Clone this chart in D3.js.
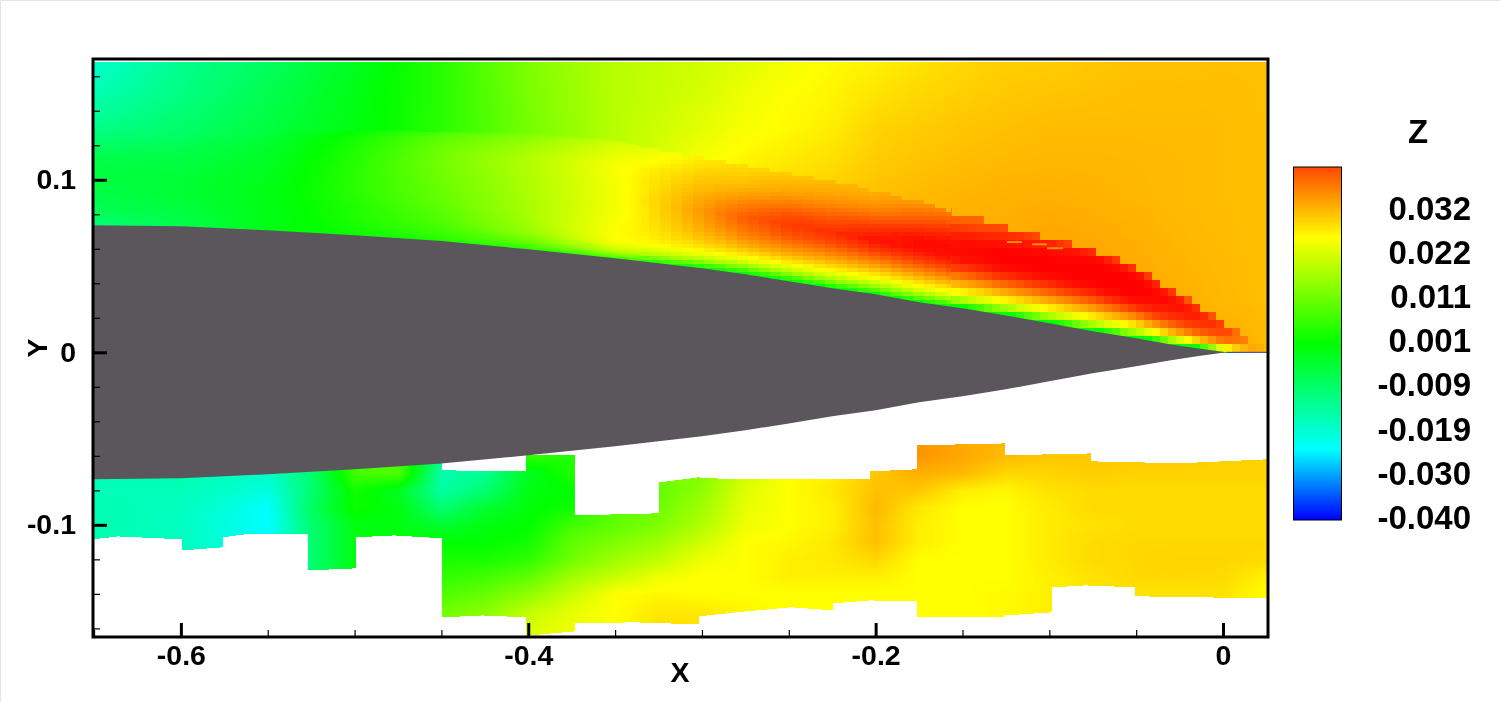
<!DOCTYPE html>
<html>
<head>
  <script src="https://d3js.org/d3.v7.min.js"></script>
  <style>
    html, body { margin: 0; padding: 0; background: #fff; }
    canvas, svg { position: absolute; left: 0; top: 0; }
    text { font-family: "Liberation Sans", Arial, sans-serif; font-weight: bold; fill: #000; }
  </style>
</head>
<body>
  <canvas id="field" width="1500" height="702"></canvas>
  <script>
    const colX = [-0.65,-0.6,-0.55,-0.5,-0.45,-0.4,-0.35,-0.3,-0.275,-0.25,-0.225,-0.2,-0.175,-0.15,-0.125,-0.1,-0.075,-0.05,-0.03,-0.015,0,0.025];
    const wallY = [0.0736,0.073,0.0707,0.0678,0.0645,0.0597,0.0545,0.0487,0.0452,0.0412,0.0371,0.0336,0.029,0.0255,0.0214,0.0168,0.0122,0.0081,0.0046,0.0023,0,0];
    const edgeY = [0.1287,0.1287,0.1287,0.1287,0.1281,0.127,0.1229,0.1125,0.1084,0.1043,0.0991,0.0939,0.0875,0.08,0.0719,0.0667,0.0597,0.0487,0.0365,0.0272,0.018,0.0006];

    // Outer field, one row per y
    const outerRows = [0.17,0.15,0.13,0.11,0.09,0.07,0.05,0.03,0.01];
    const outerZ = [
      [-0.02,-0.0135,-0.009,-0.003,0.004,0.0125,0.018,0.0204,0.022,0.024,0.0252,0.0258,0.0268,0.0276,0.0281,0.0283,0.0287,0.029,0.029,0.0291,0.0292,0.0292],
      [-0.017,-0.0125,-0.0075,-0.002,0.004,0.012,0.018,0.021,0.0235,0.025,0.0257,0.0268,0.0276,0.0282,0.0287,0.0289,0.0291,0.0293,0.0293,0.0293,0.0293,0.0292],
      [-0.013,-0.01,-0.006,-0.0015,0.004,0.0115,0.018,0.0225,0.0245,0.0253,0.0262,0.0279,0.0284,0.0289,0.0292,0.0295,0.0295,0.0295,0.0295,0.0295,0.0294,0.0292],
      [-0.012,-0.009,-0.004,0,0.005,0.012,0.018,0.0245,0.0258,0.0265,0.0272,0.0285,0.029,0.0294,0.0297,0.0298,0.0298,0.0297,0.0296,0.0295,0.0294,0.0292],
      [-0.01,-0.007,-0.002,0.001,0.006,0.013,0.019,0.026,0.0275,0.028,0.0285,0.0292,0.0297,0.03,0.0302,0.0303,0.0301,0.0298,0.0296,0.0295,0.0294,0.0292],
      [-0.01,-0.007,-0.002,0.001,0.006,0.013,0.019,0.026,0.0275,0.028,0.0285,0.0292,0.0297,0.0302,0.0305,0.0308,0.0306,0.0302,0.0298,0.0296,0.0295,0.0292],
      [-0.01,-0.007,-0.002,0.001,0.006,0.013,0.019,0.026,0.0275,0.028,0.0285,0.0292,0.0297,0.0302,0.0305,0.0308,0.031,0.0306,0.0301,0.0298,0.0296,0.0292],
      [-0.01,-0.007,-0.002,0.001,0.006,0.013,0.019,0.026,0.0275,0.028,0.0285,0.0292,0.0297,0.0302,0.0305,0.0308,0.031,0.0308,0.0305,0.03,0.0297,0.0293],
      [-0.01,-0.007,-0.002,0.001,0.006,0.013,0.019,0.026,0.0275,0.028,0.0285,0.0292,0.0297,0.0302,0.0305,0.0308,0.031,0.0308,0.0305,0.0303,0.0305,0.0295]
    ];

    // Near-wall field: share of the way from the wall to the outer edge, one list per column
    const innerEta = [0,0.03,0.07,0.12,0.17,0.25,0.33,0.42,0.52,0.62,0.72,0.82,0.92,1];
    const innerZ = [
      [-0.011,-0.011,-0.01,-0.009,-0.008,-0.0075,-0.007,-0.0065,-0.006,-0.0065,-0.0075,-0.009,-0.011,-0.012],
      [-0.007,-0.007,-0.007,-0.0065,-0.006,-0.0055,-0.005,-0.005,-0.005,-0.006,-0.0065,-0.0075,-0.009,-0.01],
      [-0.002,-0.002,-0.002,-0.002,-0.002,-0.002,-0.002,-0.002,-0.0025,-0.003,-0.0035,-0.004,-0.005,-0.006],
      [0.001,0.0015,0.002,0.0025,0.003,0.003,0.0035,0.004,0.004,0.004,0.0035,0.003,0.002,0],
      [0.002,0.004,0.0055,0.0065,0.0075,0.0085,0.0095,0.01,0.0105,0.011,0.0115,0.011,0.0095,0.007],
      [0.003,0.007,0.01,0.013,0.015,0.016,0.0165,0.0165,0.017,0.017,0.0175,0.017,0.015,0.0125],
      [0.004,0.012,0.019,0.0235,0.025,0.025,0.0245,0.024,0.024,0.024,0.0245,0.024,0.022,0.0205],
      [0.001,0.006,0.016,0.0225,0.026,0.0285,0.03,0.0313,0.0318,0.031,0.0295,0.0285,0.0272,0.0262],
      [0.0005,0.005,0.014,0.0215,0.026,0.03,0.0325,0.0345,0.036,0.034,0.0315,0.0295,0.0282,0.0272],
      [0,0.005,0.014,0.0215,0.026,0.0305,0.0335,0.0365,0.038,0.0365,0.0335,0.031,0.0295,0.0282],
      [0,0.005,0.014,0.021,0.0255,0.03,0.0335,0.037,0.039,0.037,0.0345,0.032,0.0305,0.0295],
      [0,0.006,0.014,0.021,0.0255,0.03,0.034,0.038,0.041,0.039,0.036,0.033,0.031,0.0303],
      [0,0.006,0.014,0.021,0.0255,0.03,0.034,0.038,0.041,0.0415,0.039,0.036,0.0335,0.0315],
      [0,0.006,0.014,0.021,0.0255,0.03,0.034,0.038,0.041,0.0415,0.041,0.039,0.036,0.034],
      [0,0.006,0.014,0.021,0.0255,0.03,0.034,0.038,0.041,0.042,0.042,0.041,0.039,0.037],
      [0,0.006,0.014,0.021,0.0255,0.03,0.034,0.038,0.041,0.042,0.042,0.0415,0.04,0.036],
      [0,0.006,0.014,0.021,0.0255,0.03,0.034,0.038,0.041,0.042,0.042,0.042,0.041,0.038],
      [0,0.006,0.014,0.021,0.0255,0.03,0.034,0.038,0.041,0.042,0.042,0.042,0.041,0.038],
      [0,0.006,0.014,0.022,0.027,0.031,0.034,0.037,0.039,0.04,0.0415,0.041,0.04,0.037],
      [0,0.006,0.014,0.022,0.027,0.031,0.034,0.036,0.038,0.039,0.04,0.04,0.039,0.036],
      [0,0.006,0.014,0.022,0.027,0.03,0.033,0.035,0.036,0.037,0.038,0.038,0.037,0.035],
      [0.029,0.029,0.029,0.029,0.029,0.029,0.029,0.029,0.029,0.029,0.029,0.029,0.029,0.029]
    ];

    // Lower patch of data
    const lowerX = [-0.65,-0.6,-0.575,-0.55,-0.525,-0.5,-0.475,-0.45,-0.425,-0.4,-0.375,-0.35,-0.325,-0.3,-0.275,-0.25,-0.225,-0.2,-0.175,-0.15,-0.125,-0.1,-0.075,-0.05,-0.025,0,0.025];
    const lowerRows = [-0.06,-0.07,-0.08,-0.09,-0.10,-0.11,-0.12,-0.13,-0.14,-0.15,-0.16];
    const lowerZ = [
      [-0.017,-0.017,-0.018,-0.019,-0.006,0.006,0.0078,-0.012,-0.016,0.0047,0.003,0.01,0.0125,0.0125,0.02,0.025,0.0265,0.0297,0.032,0.0308,0.0295,0.0287,0.0287,0.0287,0.0287,0.0281,0.0281],
      [-0.017,-0.017,-0.0185,-0.019,-0.0108,0.0063,0.0078,-0.0169,-0.0138,-0.0031,0.0031,0.0094,0.0125,0.0125,0.0204,0.025,0.026,0.0287,0.0303,0.0297,0.0276,0.0279,0.0283,0.0279,0.0279,0.0279,0.0279],
      [-0.0177,-0.0177,-0.0192,-0.0215,-0.0108,0.0016,-0.0031,-0.0154,-0.0108,-0.0015,0,0.0094,0.0094,0.0141,0.022,0.025,0.0265,0.0292,0.0287,0.026,0.0255,0.0269,0.0274,0.0274,0.0274,0.0274,0.0274],
      [-0.0169,-0.0184,-0.0208,-0.0245,-0.0092,0.001,-0.0015,-0.0108,-0.0046,-0.0008,0.0016,0.0094,0.011,0.0157,0.0227,0.025,0.026,0.0297,0.0265,0.025,0.025,0.0263,0.0274,0.0274,0.0274,0.0274,0.0274],
      [-0.0169,-0.0184,-0.0215,-0.0245,-0.0108,-0.0015,-0.0015,-0.0046,-0.0015,0,0.0063,0.0094,0.0125,0.0173,0.0235,0.025,0.026,0.0292,0.026,0.025,0.025,0.0263,0.0269,0.0274,0.0274,0.0274,0.0274],
      [-0.0169,-0.0184,-0.021,-0.024,-0.0108,-0.0015,-0.001,0,0,0.0016,0.0094,0.0125,0.0157,0.0204,0.025,0.0255,0.0265,0.0292,0.026,0.025,0.025,0.0263,0.0274,0.0276,0.0276,0.0276,0.0276],
      [-0.0169,-0.018,-0.02,-0.022,-0.0108,-0.0015,0.001,0.0024,0.0024,0.0047,0.011,0.0157,0.0188,0.0235,0.025,0.026,0.0265,0.0276,0.025,0.025,0.025,0.0263,0.0274,0.0276,0.0278,0.0278,0.0274],
      [-0.0169,-0.018,-0.02,-0.022,-0.0108,-0.002,0.002,0.0047,0.0063,0.0094,0.0157,0.0196,0.0235,0.025,0.025,0.026,0.026,0.026,0.025,0.025,0.025,0.026,0.0269,0.0276,0.0276,0.0274,0.0258],
      [-0.0169,-0.018,-0.02,-0.022,-0.0108,-0.002,0.002,0.0078,0.0102,0.0141,0.0196,0.025,0.0255,0.025,0.025,0.025,0.025,0.025,0.025,0.025,0.0253,0.026,0.0268,0.0269,0.0269,0.0269,0.025],
      [-0.0169,-0.018,-0.02,-0.022,-0.0108,-0.002,0.002,0.011,0.0133,0.0188,0.0227,0.025,0.0265,0.0265,0.0255,0.025,0.025,0.025,0.025,0.025,0.0253,0.026,0.0268,0.0269,0.0269,0.0269,0.025],
      [-0.0169,-0.018,-0.02,-0.022,-0.0108,-0.002,0.002,0.011,0.0133,0.0212,0.0235,0.025,0.027,0.027,0.0255,0.025,0.025,0.025,0.025,0.025,0.0253,0.026,0.0268,0.0269,0.0269,0.0269,0.025]
    ];

    // Outline of the lower patch, read along its stepped edges
    const lowerOutlineX = [-0.6506,-0.4496,-0.4496,-0.4013,-0.4013,-0.3731,-0.3731,-0.3247,-0.3247,-0.3022,-0.2827,-0.2032,-0.2032,-0.1762,-0.1762,-0.1255,-0.1255,-0.076,-0.076,-0.0248,0.0259,
      0.0259,-0.0507,-0.0507,-0.0789,-0.0984,-0.0984,-0.1255,-0.1255,-0.1762,-0.1762,-0.2032,-0.2245,-0.2245,-0.2487,-0.274,-0.3017,-0.3017,-0.3385,-0.3731,-0.3731,-0.399,-0.4013,-0.4013,-0.4266,-0.4496,-0.4496,-0.4773,-0.4991,-0.4991,-0.5268,-0.5268,-0.563,-0.5757,-0.5757,-0.5993,-0.5993,-0.6361,-0.6506];
    const lowerOutlineY = [-0.051,-0.051,-0.0684,-0.069,-0.0597,-0.0597,-0.0945,-0.0933,-0.0754,-0.0725,-0.0736,-0.0736,-0.069,-0.0678,-0.0539,-0.0528,-0.0597,-0.0586,-0.0632,-0.0643,-0.062,
      -0.1426,-0.1414,-0.1362,-0.1351,-0.1362,-0.1507,-0.1525,-0.1536,-0.1536,-0.1443,-0.1438,-0.1455,-0.1496,-0.1478,-0.1501,-0.153,-0.1577,-0.1565,-0.1571,-0.1617,-0.1641,-0.1641,-0.1536,-0.1525,-0.1536,-0.1078,-0.1061,-0.1072,-0.1252,-0.1264,-0.1055,-0.1055,-0.1072,-0.113,-0.1148,-0.1084,-0.1067,-0.1084];

    // Small orange streaks at the top of the red zone
    const streakX1 = [-0.1244,-0.1099,-0.1013];
    const streakX2 = [-0.1158,-0.1013,-0.0921];
    const streakY = [0.0639,0.0626,0.0603];

    // Ticks and legend
    const xMajor = [-0.6,-0.4,-0.2,0];
    const xMajorLabels = ["-0.6","-0.4","-0.2","0"];
    const xMinor = [-0.65,-0.55,-0.5,-0.45,-0.35,-0.3,-0.25,-0.15,-0.1,-0.05];
    const yMajor = [0.1,0,-0.1];
    const yMajorLabels = ["0.1","0","-0.1"];
    const yMinor = [0.16,0.14,0.12,0.08,0.06,0.04,0.02,-0.02,-0.04,-0.06,-0.08,-0.12,-0.14,-0.16];
    const legendLabels = ["0.032","0.022","0.011","0.001","-0.009","-0.019","-0.030","-0.040"];
    const colorStops = [-0.041,-0.0245,0,0.025,0.042];
    const colorValues = ["#0000ff","#00ffff","#00ff00","#ffff00","#ff0000"];
    const legendColors = ["#0000ff","#00ffff","#00ff00","#ffff00","#ff4800"];
    const legendOffsets = [0,0.2,0.5,0.8,1];

    const x = d3.scaleLinear().domain([-0.6506,0.0259]).range([93,1268]);
    const y = d3.scaleLinear().domain([0.17,-0.165]).range([59,637]);
    const color = d3.scaleLinear().domain(colorStops).range(colorValues).clamp(true);

    // Where v sits in a sorted list: index of the left entry and share towards the next
    function locate(list, v) {
      const desc = list[0] > list[list.length - 1];
      let i = desc ? d3.bisector(d => -d).right(list, -v) - 1 : d3.bisectRight(list, v) - 1;
      i = Math.max(0, Math.min(list.length - 2, i));
      const t = (v - list[i]) / (list[i + 1] - list[i]);
      return [i, Math.max(0, Math.min(1, t))];
    }
    const between = (a, b, t) => a + (b - a) * t;

    function atWall(list, dx) {
      const [i, t] = locate(colX, dx);
      return between(list[i], list[i + 1], t);
    }

    function outerAt(dx, dy) {
      const [c, tc] = locate(colX, dx);
      const [r, tr] = locate(outerRows, dy);
      return between(between(outerZ[r][c], outerZ[r][c + 1], tc), between(outerZ[r + 1][c], outerZ[r + 1][c + 1], tc), tr);
    }

    function innerAt(dx, dy) {
      const [c, tc] = locate(colX, dx);
      const w = atWall(wallY, dx), e = atWall(edgeY, dx);
      const [r, tr] = locate(innerEta, (dy - w) / (e - w));
      return between(between(innerZ[c][r], innerZ[c + 1][r], tc), between(innerZ[c][r + 1], innerZ[c + 1][r + 1], tc), tr);
    }

    function lowerAt(dx, dy) {
      const [c, tc] = locate(lowerX, dx);
      const [r, tr] = locate(lowerRows, dy);
      return between(between(lowerZ[r][c], lowerZ[r][c + 1], tc), between(lowerZ[r + 1][c], lowerZ[r + 1][c + 1], tc), tr);
    }

    // Paint the field pixel by pixel through the scales; the grid shows as blocks behind the edge
    const ctx = document.getElementById("field").getContext("2d");
    const image = ctx.createImageData(1500, 702);
    const outlinePx = lowerOutlineX.map((d, i) => [x(d), y(lowerOutlineY[i])]);

    function put(px, py, z) {
      const c = d3.rgb(color(z));
      const k = (py * 1500 + px) * 4;
      image.data[k] = c.r; image.data[k + 1] = c.g; image.data[k + 2] = c.b; image.data[k + 3] = 255;
    }

    for (let py = 62; py < 637; py++) {
      for (let px = 94; px < 1267; px++) {
        if (py <= y(0)) {
          let sx = px, sy = py;
          if (px > 640) {
            const bw = px > 950 ? 8 : 11, bh = px > 950 ? 8 : 4;
            sx = (Math.floor(px / bw) + 0.5) * bw;
            sy = (Math.floor(py / bh) + 0.5) * bh;
          }
          const bx = x.invert(sx), by = y.invert(sy);
          if (by <= atWall(edgeY, bx)) {
            put(px, py, innerAt(bx, by));
          } else {
            const dx = x.invert(px), dy = y.invert(py);
            put(px, py, dy <= atWall(edgeY, dx) && px <= 640 ? innerAt(dx, dy) : outerAt(dx, dy));
          }
        } else if (py > 430 && d3.polygonContains(outlinePx, [px + 0.5, py + 0.5])) {
          put(px, py, lowerAt(x.invert(px), y.invert(py)));
        }
      }
    }
    ctx.putImageData(image, 0, 0);

    const svg = d3.select("body").append("svg")
      .attr("width", 1500)
      .attr("height", 702);

    // Faint page edge
    svg.append("path")
      .attr("d", "M0.5,702V0.5H1500")
      .attr("fill", "none")
      .attr("stroke", "#e4e4e4");

    // Solid body, mirrored about y = 0
    const bodyLine = d3.line().x(d => x(d[0])).y(d => y(d[1]));
    const bodyTop = colX.slice(0, 21).map((d, i) => [d, wallY[i]]);
    const bodyTip = [[0.002, 0]];
    const bodyBottom = colX.slice(0, 20).map((d, i) => [d, -wallY[i]]).reverse();
    svg.append("path")
      .attr("d", bodyLine([[-0.6506, wallY[0]], ...bodyTop.slice(1, 20), ...bodyTip, ...bodyBottom.slice(0, 19), [-0.6506, -wallY[0]]]) + "Z")
      .attr("fill", "#5b565b");

    // Wake line behind the tip
    svg.append("line")
      .attr("x1", x(0.002)).attr("x2", x(0.0259))
      .attr("y1", y(0)).attr("y2", y(0))
      .attr("stroke", "#3030d0")
      .attr("stroke-width", 1);

    svg.selectAll(".streak")
      .data(streakY)
      .join("line")
      .attr("class", "streak")
      .attr("x1", (d, i) => x(streakX1[i]))
      .attr("x2", (d, i) => x(streakX2[i]))
      .attr("y1", d => y(d))
      .attr("y2", d => y(d))
      .attr("stroke", "#ff9000")
      .attr("stroke-width", 2);

    // Axes
    const xAxisMinor = svg.append("g")
      .attr("transform", `translate(0,${y.range()[1]})`)
      .call(d3.axisBottom(x).tickValues(xMinor).tickSize(-7).tickFormat(""));
    const yAxisMinor = svg.append("g")
      .attr("transform", `translate(${x.range()[0]},0)`)
      .call(d3.axisLeft(y).tickValues(yMinor).tickSize(-7).tickFormat(""));
    xAxisMinor.selectAll("line").attr("stroke", "#000").attr("stroke-width", 1.2);
    yAxisMinor.selectAll("line").attr("stroke", "#000").attr("stroke-width", 1.2);

    const xAxisMajor = svg.append("g")
      .attr("transform", `translate(0,${y.range()[1]})`)
      .call(d3.axisBottom(x).tickValues(xMajor).tickSize(-14).tickPadding(8).tickFormat((d, i) => xMajorLabels[i]));
    const yAxisMajor = svg.append("g")
      .attr("transform", `translate(${x.range()[0]},0)`)
      .call(d3.axisLeft(y).tickValues(yMajor).tickSize(-14).tickPadding(17).tickFormat((d, i) => yMajorLabels[i]));
    [xAxisMinor, yAxisMinor, xAxisMajor, yAxisMajor].forEach(g => g.select(".domain").remove());
    [xAxisMajor, yAxisMajor].forEach(g => {
      g.selectAll("line").attr("stroke", "#000").attr("stroke-width", 3);
      g.selectAll("text").style("font-size", "28.5px").style("font-family", "'Liberation Sans'").style("font-weight", "bold").attr("fill", "#000");
    });

    // Frame
    svg.append("rect")
      .attr("x", x.range()[0]).attr("y", y.range()[0])
      .attr("width", x.range()[1] - x.range()[0])
      .attr("height", y.range()[1] - y.range()[0])
      .attr("fill", "none")
      .attr("stroke", "#000")
      .attr("stroke-width", 3);

    svg.append("text").attr("x", 680).attr("y", 682).attr("text-anchor", "middle").style("font-size", "28.5px").text("X");
    svg.append("text").attr("transform", "translate(47,348) rotate(-90)").attr("text-anchor", "middle").style("font-size", "28.5px").text("Y");

    // Legend
    const legendBarY = [167,520];
    const legendY = d3.scalePoint().domain(legendLabels).range([208,517]);
    const gradient = svg.append("defs").append("linearGradient")
      .attr("id", "bar").attr("x1", 0).attr("x2", 0).attr("y1", 1).attr("y2", 0);
    gradient.selectAll("stop")
      .data(legendColors)
      .join("stop")
      .attr("offset", (d, i) => legendOffsets[i])
      .attr("stop-color", d => d);
    svg.append("rect")
      .attr("x", 1293.5).attr("y", legendBarY[0])
      .attr("width", 48).attr("height", legendBarY[1] - legendBarY[0])
      .attr("fill", "url(#bar)")
      .attr("stroke", "#000")
      .attr("stroke-width", 1);
    svg.selectAll(".legend-label")
      .data(legendLabels)
      .join("text")
      .attr("class", "legend-label")
      .attr("x", 1471)
      .attr("y", d => legendY(d))
      .attr("dy", "0.36em")
      .attr("text-anchor", "end")
      .style("font-size", "33px")
      .text(d => d);
    svg.append("text").attr("x", 1418).attr("y", 143).attr("text-anchor", "middle").style("font-size", "33px").text("Z");
  </script>
</body>
</html>
